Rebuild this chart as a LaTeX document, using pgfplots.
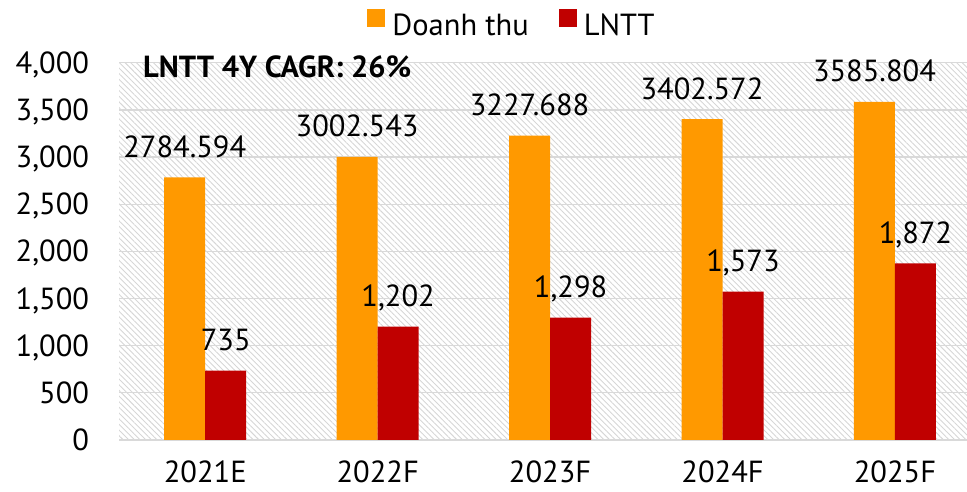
\documentclass[border=0pt]{standalone}
\usepackage{fontspec}
\setmainfont{PT Sans}
\usepackage{pgfplots}
\pgfplotsset{compat=1.18}
\usetikzlibrary{patterns.meta}
\definecolor{cOr}{HTML}{FF9900}
\definecolor{cRd}{HTML}{C00000}
\definecolor{cGr}{HTML}{D9D9D9}
\newcommand{\bigf}{\fontsize{30.5bp}{35bp}\selectfont}
\begin{document}
\begin{tikzpicture}[x=1bp,y=1bp]
\useasboundingbox (0,0) rectangle (967,492);
\begin{axis}[
  at={(119bp,52bp)}, anchor=south west,
  scale only axis, width=848bp, height=377.3bp,
  xmin=-0.5, xmax=4.418, ymin=0, ymax=4000,
  ybar=0pt, bar width=41bp,
  clip mode=individual,
  xtick={0,1,2,3,4}, xticklabels={2021E,2022F,2023F,2024F,2025F},
  ytick={0,500,...,4000},
  ymajorgrids, grid style={cGr, line width=1.3bp},
  axis line style={draw=none}, major tick length=0pt,
  font=\bigf,
  /pgf/number format/assume math mode=true,
  /pgf/number format/1000 sep={,},
  yticklabel style={anchor=base east, inner sep=0pt, xshift=-29.7bp, yshift=-10.5bp},
  xticklabel style={anchor=base, inner sep=0pt, yshift=-43bp},
  axis background/.style={pattern={Lines[angle=-45,distance=4bp,line width=0.9bp]}, pattern color=black!16},
  legend style={at={(0.4634,1.1026)}, anchor=center, draw=none, fill=none,
    legend columns=2, font=\bigf,
    /tikz/every odd column/.append style={column sep=5bp},
    /tikz/every even column/.append style={column sep=28bp}},
  legend image code/.code={\fill[#1] (0bp,-2bp) rectangle (18bp,16bp);},
  nodes near coords={\pgfplotspointmeta}, point meta=explicit symbolic,
  every node near coord/.append style={anchor=base, inner sep=0pt, yshift=20bp, text=black, font=\bigf},
]
\addplot[fill=cOr, draw=none] coordinates {
  (0,2784.594) [2784.594]
  (1,3002.543) [3002.543]
  (2,3227.688) [3227.688]
  (3,3402.572) [3402.572]
  (4,3585.804) [3585.804]
};
\addplot[fill=cRd, draw=none] coordinates {
  (0,735) [735]
  (1,1202) [{1,202}]
  (2,1298) [{1,298}]
  (3,1573) [{1,573}]
  (4,1872) [{1,872}]
};
\legend{Doanh thu, LNTT}
\node[anchor=base west, inner sep=0pt, font=\bfseries\bigf] at (rel axis cs:0.0283,0.962) {LNTT 4Y CAGR: 26\%};
\end{axis}
\end{tikzpicture}
\end{document}
